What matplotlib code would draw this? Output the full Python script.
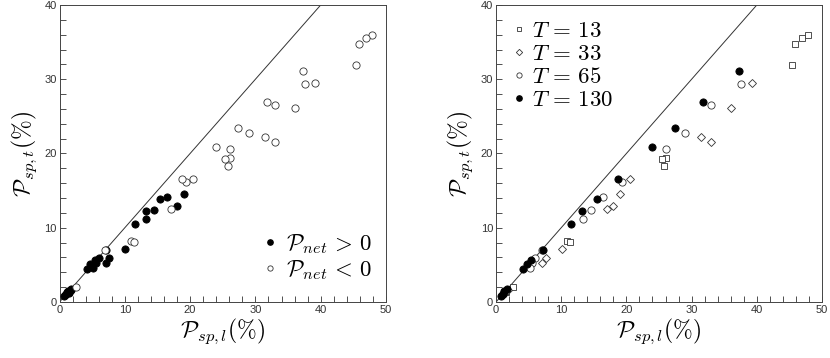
import matplotlib
matplotlib.use('Agg')
import matplotlib.pyplot as plt
from matplotlib.ticker import MultipleLocator
from matplotlib.lines import Line2D
import numpy as np

plt.rcParams['mathtext.fontset'] = 'cm'
plt.rcParams['font.family'] = ['Liberation Sans', 'DejaVu Sans']

# ---- data (P_sp,l , P_sp,t in %) ; pos = 1 if P_net > 0 ----
t13_x = [47.9, 47.0, 45.8, 45.35, 26.1, 25.4, 25.8, 10.95, 11.35, 2.6, 1.5]
t13_y = [35.96, 35.56, 34.7, 31.97, 19.4, 19.2, 18.3, 8.25, 8.1, 1.98, 1.4]
t13_pos = [0, 0, 0, 0, 0, 0, 0, 0, 0, 0, 1]

t33_x = [39.2, 36.1, 31.4, 33.0, 20.5, 19.05, 17.95, 17.05, 10.05, 7.62, 7.1, 1.4, 1.8]
t33_y = [29.5, 26.1, 22.2, 21.5, 16.55, 14.6, 12.96, 12.5, 7.2, 5.96, 5.3, 1.2, 1.6]
t33_pos = [0, 0, 0, 0, 0, 1, 1, 0, 1, 1, 1, 1, 1]

t65_x = [37.6, 33.0, 29.0, 26.1, 19.3, 16.4, 14.5, 13.3, 7.0, 6.0, 5.55, 5.2, 1.2, 0.9]
t65_y = [29.3, 26.5, 22.8, 20.6, 16.1, 14.1, 12.4, 11.2, 6.95, 5.93, 5.2, 4.6, 1.3, 1.0]
t65_pos = [0, 0, 0, 0, 0, 1, 1, 1, 0, 1, 1, 1, 1, 1]

t130_x = [37.3, 31.7, 27.4, 23.9, 18.75, 15.45, 13.2, 11.5, 7.15, 5.43, 4.7, 4.15, 0.7, 1.0, 1.3, 1.7]
t130_y = [31.1, 26.9, 23.4, 20.85, 16.5, 13.86, 12.3, 10.45, 7.07, 5.7, 5.07, 4.4, 0.8, 1.1, 1.5, 1.7]
t130_pos = [0, 0, 0, 0, 0, 1, 1, 1, 1, 1, 1, 1, 1, 1, 1, 1]

periods = ['13', '33', '65', '130']

fig = plt.figure(figsize=(8.3, 3.58), dpi=100)
axL = fig.add_axes([59.5/830, 56/358, 326.5/830, 297/358])
axR = fig.add_axes([496/830, 56/358, 326/830, 297/358])

EC = '#333333'

def style(ax):
    ax.set_xlim(0, 50)
    ax.set_ylim(0, 40)
    ax.xaxis.set_major_locator(MultipleLocator(10))
    ax.xaxis.set_minor_locator(MultipleLocator(2))
    ax.yaxis.set_major_locator(MultipleLocator(10))
    ax.yaxis.set_minor_locator(MultipleLocator(2))
    ax.tick_params(which='both', direction='in', top=False, right=False,
                   labelsize=8, colors='#333333', length=4, width=0.6, pad=2)
    ax.tick_params(which='minor', length=4)
    for s in ax.spines.values():
        s.set_linewidth(0.7)
        s.set_color('#444444')
    ax.plot([0, 50], [0, 50], color='#333333', lw=0.7, zorder=1)
    ax.set_xlabel(r'$\mathcal{P}_{sp,l}(\%)$', fontsize=17, labelpad=1)
    ax.set_ylabel(r'$\mathcal{P}_{sp,t}(\%)$', fontsize=17, labelpad=4)

style(axL)
style(axR)

allx = np.array(t13_x + t33_x + t65_x + t130_x)
ally = np.array(t13_y + t33_y + t65_y + t130_y)
allp = np.array(t13_pos + t33_pos + t65_pos + t130_pos)

ms = 5.2
lms = 3.8
axL.plot(allx[allp == 1], ally[allp == 1], 'o', ms=ms, mfc='black', mec='black', mew=0.6, ls='none', zorder=3)
axL.plot(allx[allp == 0], ally[allp == 0], 'o', ms=ms, mfc='white', mec=EC, mew=0.6, ls='none', zorder=4)

hL = [Line2D([], [], marker='o', ls='none', ms=lms, mfc='black', mec='black'),
      Line2D([], [], marker='o', ls='none', ms=lms, mfc='white', mec=EC, mew=0.6)]
axL.legend(hL, [r'$\mathcal{P}_{net}\,>\,0$', r'$\mathcal{P}_{net}\,<\,0$'], loc='lower right',
           bbox_to_anchor=(0.986, 0.036), frameon=False, fontsize=16.5, handlelength=0.8,
           handletextpad=0.28, labelspacing=0.1, borderaxespad=0.0)

axR.plot(t13_x, t13_y, 's', ms=4.3, mfc='white', mec=EC, mew=0.6, ls='none', zorder=3)
axR.plot(t33_x, t33_y, 'D', ms=4.0, mfc='white', mec=EC, mew=0.6, ls='none', zorder=3)
axR.plot(t65_x, t65_y, 'o', ms=ms, mfc='white', mec=EC, mew=0.6, ls='none', zorder=3)
axR.plot(t130_x, t130_y, 'o', ms=ms, mfc='black', mec='black', mew=0.6, ls='none', zorder=4)

hR = [Line2D([], [], marker='s', ls='none', ms=3.3, mfc='white', mec=EC, mew=0.6),
      Line2D([], [], marker='D', ls='none', ms=3.2, mfc='white', mec=EC, mew=0.6),
      Line2D([], [], marker='o', ls='none', ms=lms, mfc='white', mec=EC, mew=0.6),
      Line2D([], [], marker='o', ls='none', ms=lms, mfc='black', mec='black')]
axR.legend(hR, [rf'$T\,=\,{p}$' for p in periods], loc='upper left', frameon=False,
           fontsize=16.5, handlelength=0.8, handletextpad=0.15, labelspacing=0.0,
           borderaxespad=0.2)

fig.savefig('out.png', dpi=100)
